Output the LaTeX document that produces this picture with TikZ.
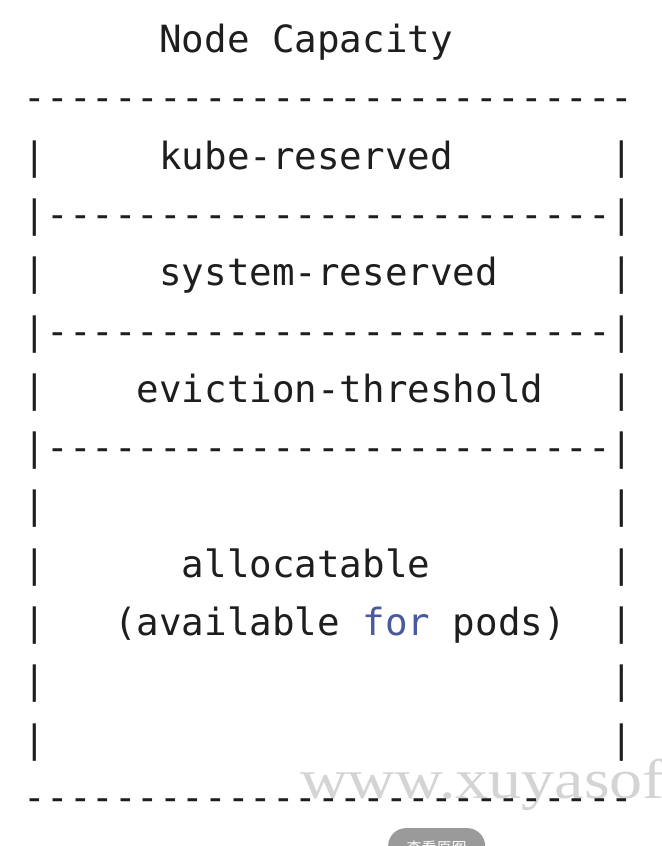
\documentclass[tikz,border=0pt]{standalone}
\usepackage{fontspec}
\setmonofont{DejaVu Sans Mono}
\newfontfamily\markfont{Liberation Serif}[FakeStretch=1.18]
\newfontfamily\cjkfont{Noto Sans CJK SC}
\definecolor{inkgray}{HTML}{1E1E1E}
\definecolor{forblue}{HTML}{4A5A9E}
\definecolor{markgray}{HTML}{D4D4D4}
\definecolor{btngray}{HTML}{9A9A9A}
\tikzset{ascii/.style={anchor=base west,inner sep=0pt,text=inkgray,
    font=\ttfamily\fontsize{37.5}{45}\selectfont}}
\begin{document}
\begin{tikzpicture}[x=22.58pt,y=-58.3pt]
    \fill[white] (-1.0496,-0.9005) rectangle (28.2248,13.6106);
    \useasboundingbox (-1.0496,-0.9005) rectangle (28.2248,13.6106);
    \clip (-1.0496,-0.9005) rectangle (28.2248,13.6106);
    % watermark and button of the page
    \node[anchor=base west,inner sep=0pt,text=markgray,font=\markfont\fontsize{56}{60}\selectfont] (mark) at (12.24,12.79) {www.xuyasoft};
    \node[anchor=north west,fill=btngray,rounded corners=18pt,minimum width=97pt,minimum height=40pt,text=white,font=\cjkfont\fontsize{15}{15}\selectfont] (btn) at (16.13,13.30) {查看原图};
    % ascii table, one row every 58.3pt
    \node[ascii] (title) at (6,0) {Node Capacity};
    \node[ascii] (top) at (0,1) {---------------------------};
    \node[ascii] (kube) at (6,2) {kube-reserved};
    \node[ascii] (sepa) at (0,3) {|-------------------------|};
    \node[ascii] (sys) at (6,4) {system-reserved};
    \node[ascii] (sepb) at (0,5) {|-------------------------|};
    \node[ascii] (evict) at (5,6) {eviction-threshold};
    \node[ascii] (sepc) at (0,7) {|-------------------------|};
    \node[ascii] (alloc) at (7,9) {allocatable};
    \node[ascii] (avail) at (4,10) {(available {\color{forblue}for} pods)};
    \node[ascii] (bottom) at (0,13) {---------------------------};
    \foreach \r in {2,4,6,8,9,10,11,12} {
        \node[ascii] (lp\r) at (0,\r) {|};
        \node[ascii] (rp\r) at (26,\r) {|};
    }
\end{tikzpicture}
\end{document}
